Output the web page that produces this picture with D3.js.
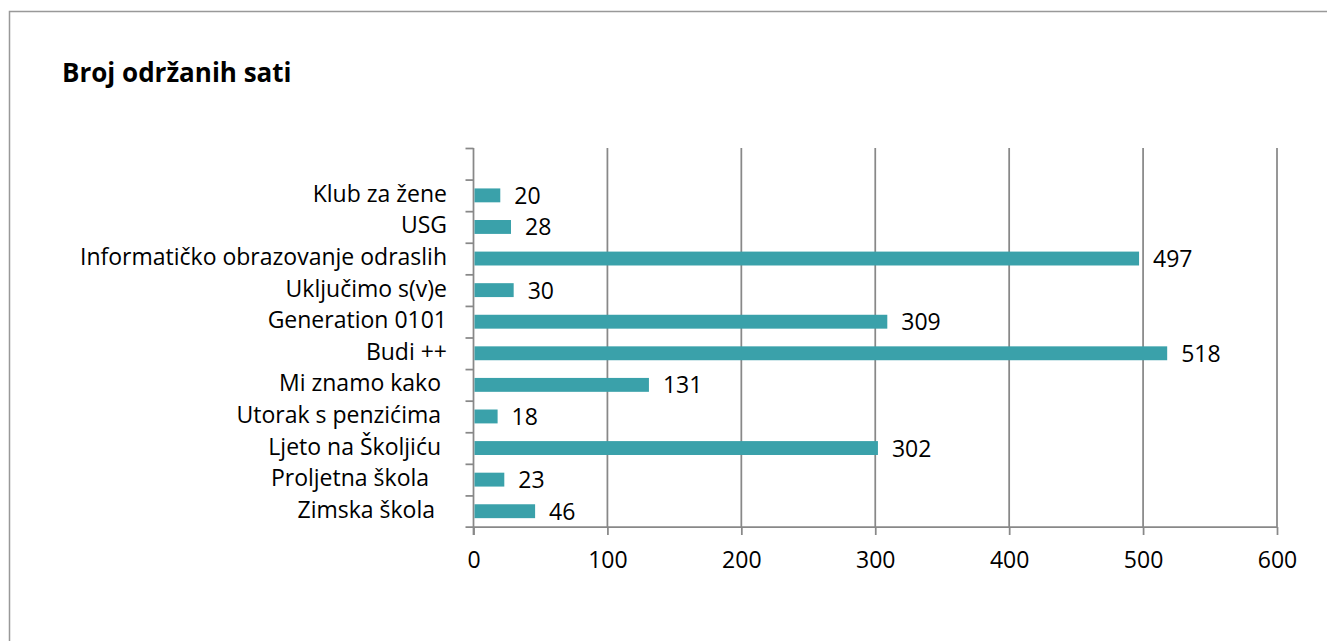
<!DOCTYPE html>
<html>
<head>
<meta charset="utf-8">
<script src="https://cdn.jsdelivr.net/npm/d3@7"></script>
<style>
  body { margin: 0; background: #fff; }
  text { font-family: "Open Sans", sans-serif; fill: #000; }
</style>
</head>
<body>
<svg width="1327" height="641"></svg>
<script>
// categories, top to bottom as shown
var categories = [
    'Klub za žene',
    'USG',
    'Informatičko obrazovanje odraslih',
    'Uključimo s(v)e',
    'Generation 0101',
    'Budi ++',
    'Mi znamo kako ',
    'Utorak s penzićima ',
    'Ljeto na Školjiću ',
    'Proljetna škola   ',
    'Zimska škola  '
];
var hours = [20, 28, 497, 30, 309, 518, 131, 18, 302, 23, 46];
var xTicks = [0, 100, 200, 300, 400, 500, 600];

var data = categories.map(function(c, i) { return { name: c, value: hours[i] }; });

var svg = d3.select('svg');

var gray = '#888';
var barColor = '#3aa1aa';

// outer chart border
svg.append('rect')
    .attr('x', 9.5).attr('y', 11.5)
    .attr('width', 1340).attr('height', 660)
    .attr('fill', 'none')
    .attr('stroke', '#999')
    .attr('stroke-width', 1.5);

// title
svg.append('text')
    .attr('x', 62).attr('y', 82)
    .style('font-weight', 'bold')
    .style('font-size', '26px')
    .text('Broj održanih sati');

var plot = { l: 473.5, r: 1277, t: 148, b: 527 };

// one empty slot at the top, like the source chart
var slots = ['__blank__'].concat(categories);

var xScale = d3.scaleLinear().domain([0, 600]).range([plot.l, plot.r]);
var yBand = d3.scaleBand()
    .domain(slots)
    .range([plot.t, plot.b])
    .paddingInner(0.56)
    .paddingOuter(0.28);
var slotScale = d3.scaleLinear().domain([0, slots.length]).range([plot.t, plot.b]);

// vertical gridlines
svg.append('g')
    .selectAll('line')
    .data(xTicks.slice(1))
    .enter()
    .append('line')
    .attr('x1', function(d) { return xScale(d); })
    .attr('x2', function(d) { return xScale(d); })
    .attr('y1', plot.t)
    .attr('y2', plot.b)
    .attr('stroke', gray)
    .attr('stroke-width', 1.75);

// x axis
var xAxis = svg.append('g')
    .attr('transform', 'translate(0,' + plot.b + ')')
    .call(d3.axisBottom(xScale).tickValues(xTicks).tickSize(8).tickSizeOuter(0).tickPadding(17));
xAxis.select('.domain').attr('stroke', gray).attr('stroke-width', 1.75)
    .attr('d', 'M' + (plot.l - 8) + ',0H' + plot.r);
xAxis.selectAll('.tick line').attr('stroke', gray).attr('stroke-width', 1.75);
xAxis.selectAll('.tick text')
    .style('font-size', '23px')
    .style('font-family', '"Open Sans", sans-serif')
    .attr('fill', '#000');

// y axis: ticks sit between categories
var yAxis = svg.append('g')
    .attr('transform', 'translate(' + plot.l + ',0)')
    .call(d3.axisLeft(slotScale).tickValues(d3.range(slots.length)).tickSize(8).tickSizeOuter(0).tickFormat(''));
yAxis.select('.domain').attr('stroke', gray).attr('stroke-width', 1.75)
    .attr('d', 'M0,' + plot.t + 'V' + (plot.b + 8));
yAxis.selectAll('.tick line').attr('stroke', gray).attr('stroke-width', 1.75);

// category labels
svg.append('g')
    .selectAll('text')
    .data(data)
    .enter()
    .append('text')
    .attr('x', 447)
    .attr('y', function(d) { return yBand(d.name) + yBand.bandwidth() / 2; })
    .attr('dy', 6.5)
    .attr('text-anchor', 'end')
    .style('white-space', 'pre')
    .style('font-size', '23px')
    .text(function(d) { return d.name; });

// bars
svg.append('g')
    .selectAll('rect')
    .data(data)
    .enter()
    .append('rect')
    .attr('x', xScale(0) + 1)
    .attr('y', function(d) { return yBand(d.name); })
    .attr('width', function(d) { return xScale(d.value) - xScale(0) - 1; })
    .attr('height', yBand.bandwidth())
    .attr('fill', barColor);

// value labels
svg.append('g')
    .selectAll('text')
    .data(data)
    .enter()
    .append('text')
    .attr('x', function(d) { return xScale(d.value) + 14; })
    .attr('y', function(d) { return yBand(d.name) + yBand.bandwidth() / 2; })
    .attr('dy', 8.5)
    .style('font-size', '23px')
    .text(function(d) { return d.value; });
</script>
</body>
</html>
